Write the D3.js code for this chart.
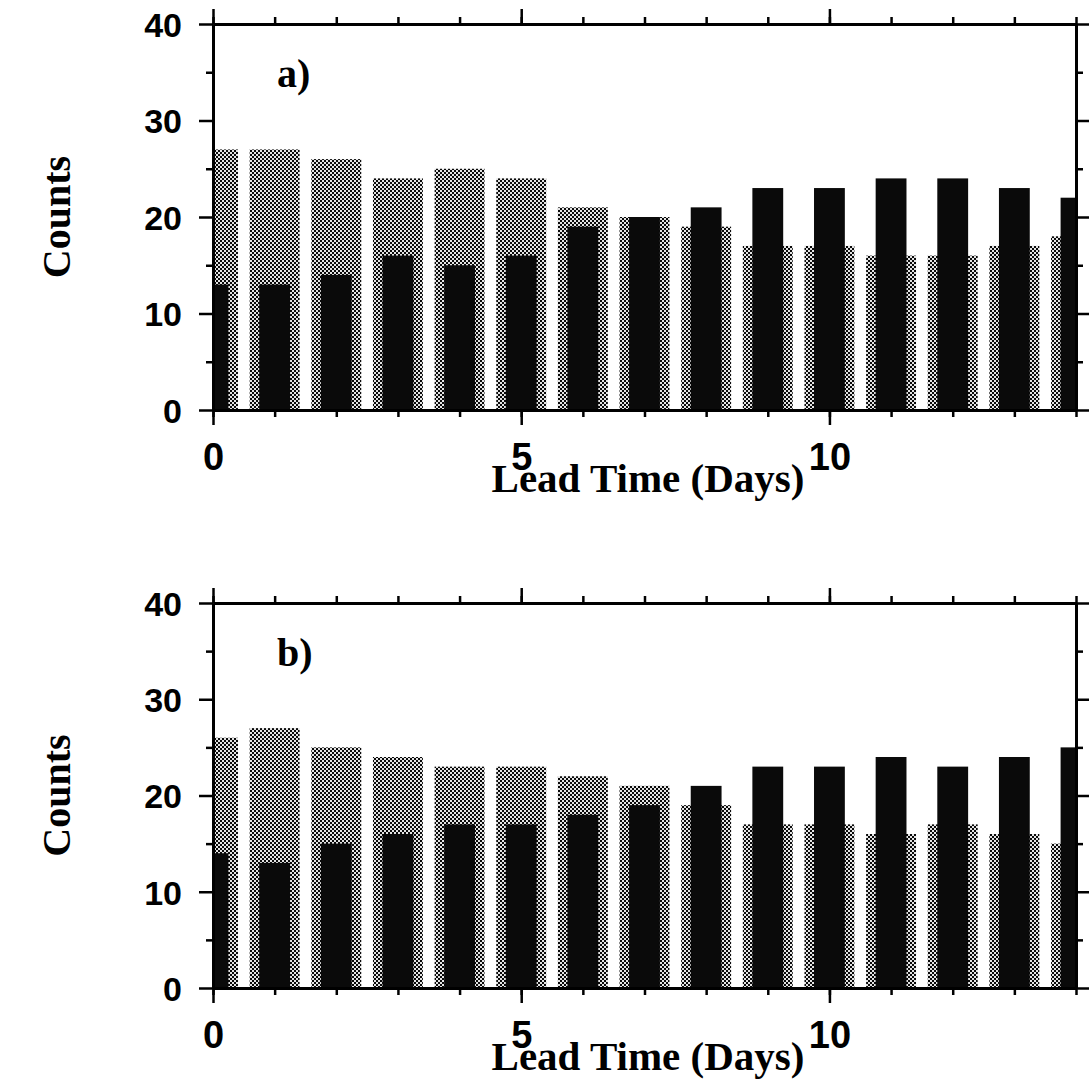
<!DOCTYPE html>
<html>
<head>
<meta charset="utf-8">
<script src="https://cdn.jsdelivr.net/npm/d3@7"></script>
<style>
  body { margin: 0; background: #fff; }
  svg { display: block; }
</style>
</head>
<body>
<script>
// lead time categories (days)
var days = [0, 1, 2, 3, 4, 5, 6, 7, 8, 9, 10, 11, 12, 13, 14];

// panel a) counts
var grayA  = [27, 27, 26, 24, 25, 24, 21, 20, 19, 17, 17, 16, 16, 17, 18];
var blackA = [13, 13, 14, 16, 15, 16, 19, 20, 21, 23, 23, 24, 24, 23, 22];

// panel b) counts
var grayB  = [26, 27, 25, 24, 23, 23, 22, 21, 19, 17, 17, 16, 17, 16, 15];
var blackB = [14, 13, 15, 16, 17, 17, 18, 19, 21, 23, 23, 24, 23, 24, 25];

// ticks
var yMajor = [0, 10, 20, 30, 40];
var yMinor = [5, 15, 25, 35];
var xMajor = [0, 5, 10];

var width = 1089, height = 1082;
var left = 213, right = 1076;

var svg = d3.select("body").append("svg")
    .attr("width", width).attr("height", height);

// dithered gray like the scan
var defs = svg.append("defs");
var pat = defs.append("pattern").attr("id", "dots")
    .attr("width", 4).attr("height", 4).attr("patternUnits", "userSpaceOnUse");
pat.append("rect").attr("width", 4).attr("height", 4).attr("fill", "#e4e4e4");
pat.append("rect").attr("x", 0).attr("y", 0).attr("width", 2).attr("height", 2).attr("fill", "#0a0a0a");
pat.append("rect").attr("x", 2).attr("y", 2).attr("width", 2).attr("height", 2).attr("fill", "#0a0a0a");

var x = d3.scaleLinear().domain([0, 14]).range([left, right]);
var dayW = x(1) - x(0);

var panels = [
  {tag: "a)", top: 24, bottom: 410, gray: grayA, black: blackA},
  {tag: "b)", top: 603, bottom: 988, gray: grayB, black: blackB}
];

panels.forEach(function(p, i) {
  var y = d3.scaleLinear().domain([0, 40]).range([p.bottom, p.top]);
  var g = svg.append("g");

  defs.append("clipPath").attr("id", "clip" + i)
    .append("rect")
    .attr("x", left).attr("y", p.top)
    .attr("width", right - left).attr("height", p.bottom - p.top);

  var bars = g.append("g").attr("clip-path", "url(#clip" + i + ")");

  // gray wide bars behind
  bars.selectAll("rect.gray").data(p.gray).enter().append("rect")
    .attr("class", "gray")
    .attr("x", function(d, j) { return x(days[j]) - dayW * 0.405; })
    .attr("width", dayW * 0.81)
    .attr("y", function(d) { return y(d); })
    .attr("height", function(d) { return y(0) - y(d); })
    .attr("fill", "url(#dots)");

  // black narrow bars in front
  bars.selectAll("rect.black").data(p.black).enter().append("rect")
    .attr("class", "black")
    .attr("x", function(d, j) { return x(days[j]) - dayW * 0.25; })
    .attr("width", dayW * 0.5)
    .attr("y", function(d) { return y(d); })
    .attr("height", function(d) { return y(0) - y(d); })
    .attr("fill", "#0a0a0a");

  // axes: minor ticks
  g.append("g").attr("transform", "translate(0," + p.bottom + ")")
    .call(d3.axisBottom(x).tickValues(days).tickSize(7).tickSizeOuter(0).tickFormat(""));
  g.append("g").attr("transform", "translate(0," + p.top + ")")
    .call(d3.axisTop(x).tickValues(days).tickSize(7).tickSizeOuter(0).tickFormat(""));
  g.append("g").attr("transform", "translate(" + left + ",0)")
    .call(d3.axisLeft(y).tickValues(yMinor).tickSize(7).tickSizeOuter(0).tickFormat(""));
  g.append("g").attr("transform", "translate(" + right + ",0)")
    .call(d3.axisRight(y).tickValues(yMinor).tickSize(7).tickSizeOuter(0).tickFormat(""));

  // axes: major ticks
  var xb = g.append("g").attr("transform", "translate(0," + p.bottom + ")")
    .call(d3.axisBottom(x).tickValues(xMajor).tickSize(15).tickSizeOuter(0).tickFormat(d3.format("d")));
  xb.selectAll("text").attr("y", 60).attr("dy", 0)
    .style("font", "bold 38px 'Liberation Sans', Arial, sans-serif");

  g.append("g").attr("transform", "translate(0," + p.top + ")")
    .call(d3.axisTop(x).tickValues(xMajor).tickSize(15).tickSizeOuter(0).tickFormat(""));

  var yl = g.append("g").attr("transform", "translate(" + left + ",0)")
    .call(d3.axisLeft(y).tickValues(yMajor).tickSize(14).tickSizeOuter(0).tickFormat(d3.format("d")));
  yl.selectAll("text").attr("x", -31).attr("dy", "0.36em")
    .style("font", "bold 34px 'Liberation Sans', Arial, sans-serif");

  g.append("g").attr("transform", "translate(" + right + ",0)")
    .call(d3.axisRight(y).tickValues(yMajor).tickSize(14).tickSizeOuter(0).tickFormat(""));

  g.selectAll(".domain").attr("stroke", "#000").attr("stroke-width", 3);
  g.selectAll(".tick line").attr("stroke", "#000").attr("stroke-width", 2.5);
  g.selectAll(".tick text").attr("fill", "#000");

  // panel tag
  g.append("text")
    .attr("x", 277).attr("y", p.top + 63)
    .style("font", "bold 40px 'Liberation Serif', 'Times New Roman', serif")
    .text(p.tag);

  // axis titles
  g.append("text")
    .attr("x", 648).attr("y", p.bottom + 82)
    .attr("text-anchor", "middle")
    .style("font", "bold 41px 'Liberation Serif', 'Times New Roman', serif")
    .text("Lead Time (Days)");

  g.append("text")
    .attr("transform", "translate(70," + ((p.top + p.bottom) / 2) + ") rotate(-90)")
    .attr("text-anchor", "middle")
    .style("font", "bold 40px 'Liberation Serif', 'Times New Roman', serif")
    .text("Counts");
});
</script>
</body>
</html>
